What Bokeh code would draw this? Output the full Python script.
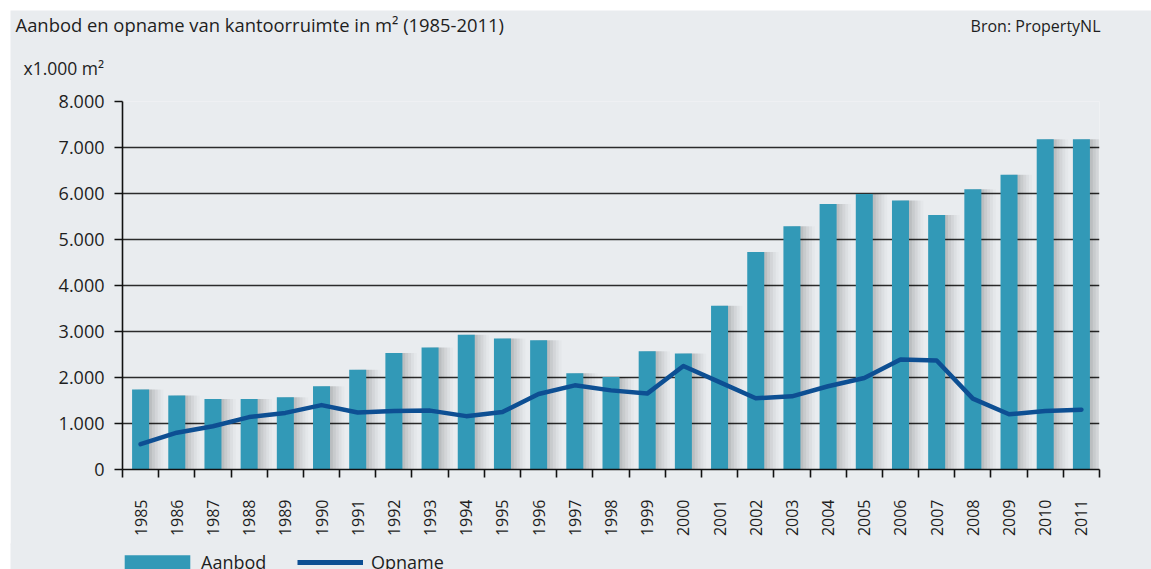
import math
from bokeh.plotting import figure
from bokeh.models import (Range1d, FixedTicker, Label, ColumnDataSource, Legend)
from bokeh.transform import dodge
from bokeh.embed import file_html
from bokeh.resources import INLINE

# ---- data ----
years = [1985, 1986, 1987, 1988, 1989, 1990, 1991, 1992, 1993, 1994, 1995, 1996, 1997, 1998,
         1999, 2000, 2001, 2002, 2003, 2004, 2005, 2006, 2007, 2008, 2009, 2010, 2011]
aanbod = [1740, 1610, 1530, 1530, 1570, 1810, 2170, 2530, 2650, 2930, 2850, 2810, 2090, 2010,
          2570, 2520, 3560, 4730, 5290, 5770, 5990, 5850, 5530, 6090, 6410, 7180, 7180]
opname = [550, 800, 940, 1140, 1230, 1400, 1240, 1270, 1280, 1160, 1250, 1640, 1830, 1720,
          1650, 2250, 1900, 1550, 1590, 1810, 1990, 2390, 2370, 1540, 1200, 1270, 1300]
y_ticks = [0, 1000, 2000, 3000, 4000, 5000, 6000, 7000, 8000]
y_tick_labels = ["0", "1.000", "2.000", "3.000", "4.000", "5.000", "6.000", "7.000", "8.000"]
series_names = ["Aanbod", "Opname"]

title_text = "Aanbod en opname van kantoorruimte in m² (1985-2011)"
source_text = "Bron: PropertyNL"
unit_text = "x1.000 m²"

BG = "#e9ecef"
BAR = "#3299b7"
LINE = "#0d4f93"
TXT = "#1e1e1e"
FONT = "Open Sans"

W = 1141
HEAD_H = 70
FOOT_H = 24
MAIN_H = 569 - 10 - HEAD_H - FOOT_H
OVL = 2  # overlap between stacked figures to hide seams

src = ColumnDataSource(dict(year=years, aanbod=aanbod, opname=opname))


def blank(height, margin, xr, yr):
    f = figure(width=W, height=height, output_backend="svg", toolbar_location=None,
               x_range=xr, y_range=yr,
               min_border=0, x_axis_type=None, y_axis_type=None, title_location=None)
    f.margin = margin
    f.background_fill_color = BG
    f.border_fill_color = BG
    f.outline_line_color = None
    f.grid.grid_line_color = None
    return f


# ---- header with the texts ----
head = blank(HEAD_H, (10, 0, 0, 10), Range1d(0, W), Range1d(HEAD_H, 0))
head.add_layout(Label(x=5, y=14, text=title_text,
                      text_font=FONT, text_font_size="18.4px", text_color=TXT,
                      text_baseline="middle", text_align="left"))
head.add_layout(Label(x=1090, y=15, text=source_text,
                      text_font=FONT, text_font_size="16px", text_color=TXT,
                      text_baseline="middle", text_align="right"))
head.add_layout(Label(x=13, y=57, text=unit_text,
                      text_font=FONT, text_font_size="17.5px", text_color=TXT,
                      text_baseline="middle", text_align="left"))

# ---- main chart ----
p = figure(width=W, height=MAIN_H + OVL, output_backend="svg", toolbar_location=None,
           x_range=Range1d(years[0] - 0.5, years[-1] + 0.5), y_range=Range1d(0, 8000),
           min_border_left=112, min_border_right=52, min_border_top=21 + OVL, min_border_bottom=76,
           title_location=None)
p.margin = (-OVL, 0, 0, 10)
p.background_fill_color = BG
p.border_fill_color = BG
p.outline_line_color = None

# soft shadows right of the bars
for off, a in [(0.08, 0.06), (0.16, 0.05), (0.24, 0.04), (0.32, 0.03), (0.40, 0.02)]:
    p.vbar(x=dodge("year", off), top="aanbod", width=0.47, source=src,
           fill_color="#000000", fill_alpha=a, line_color=None)

p.vbar(x="year", top="aanbod", width=0.47, source=src, fill_color=BAR, line_color=None)
p.line(x="year", y="opname", source=src, line_color=LINE, line_width=4.5,
       line_join="round", line_cap="round")

# grid
p.xgrid.grid_line_color = None
p.ygrid.ticker = FixedTicker(ticks=y_ticks)
p.ygrid.grid_line_color = "#2b2b2b"
p.ygrid.grid_line_width = 1.6

# y axis
ya = p.yaxis[0]
ya.ticker = FixedTicker(ticks=y_ticks)
ya.major_label_overrides = {t: l for t, l in zip(y_ticks, y_tick_labels)}
ya.axis_line_color = "#111111"
ya.axis_line_width = 1.6
ya.major_tick_line_color = "#111111"
ya.major_tick_line_width = 1.6
ya.major_tick_out = 8
ya.major_tick_in = 0
ya.minor_tick_line_color = None
ya.major_label_standoff = 10
ya.major_label_text_font = FONT
ya.major_label_text_font_size = "18px"
ya.major_label_text_color = TXT

# x axis
xa = p.xaxis[0]
xa.ticker = FixedTicker(ticks=years, minor_ticks=[y - 0.5 for y in years] + [years[-1] + 0.5])
xa.major_label_overrides = {y: str(y) for y in years}
xa.axis_line_color = "#111111"
xa.axis_line_width = 1.6
xa.major_tick_line_color = None
xa.major_tick_out = 0
xa.major_tick_in = 0
xa.minor_tick_line_color = "#111111"
xa.minor_tick_line_width = 1.6
xa.minor_tick_out = 8
xa.minor_tick_in = 0
xa.major_label_orientation = math.pi / 2
xa.major_label_standoff = 22
xa.major_label_text_font = FONT
xa.major_label_text_font_size = "16px"
xa.major_label_text_color = TXT

# ---- footer with the legend (its renderers fall outside the footer's ranges) ----
foot = blank(FOOT_H + OVL, (-OVL, 0, 0, 10), Range1d(0, 1), Range1d(0, 1))
leg_bar = foot.vbar(x="year", top="aanbod", width=0.47, source=src,
                    fill_color=BAR, line_color=None)
leg_line = foot.line(x="year", y="opname", source=src, line_color=LINE, line_width=5)

common = dict(orientation="horizontal", padding=0, margin=0, label_height=14,
              background_fill_alpha=0, border_line_color=None,
              label_text_font=FONT, label_text_font_size="18px", label_text_color=TXT)
# area glyphs are drawn inset by 10% inside the glyph box
legend_bar = Legend(items=[(series_names[0], [leg_bar])], location=(106, -5),
                    glyph_width=82, glyph_height=18, label_standoff=3, **common)
legend_line = Legend(items=[(series_names[1], [leg_line])], location=(287, -5),
                     glyph_width=66, glyph_height=14, label_standoff=8, **common)
foot.add_layout(legend_bar, "center")
foot.add_layout(legend_line, "center")

open("out.html", "w").write(file_html([head, p, foot], INLINE))
